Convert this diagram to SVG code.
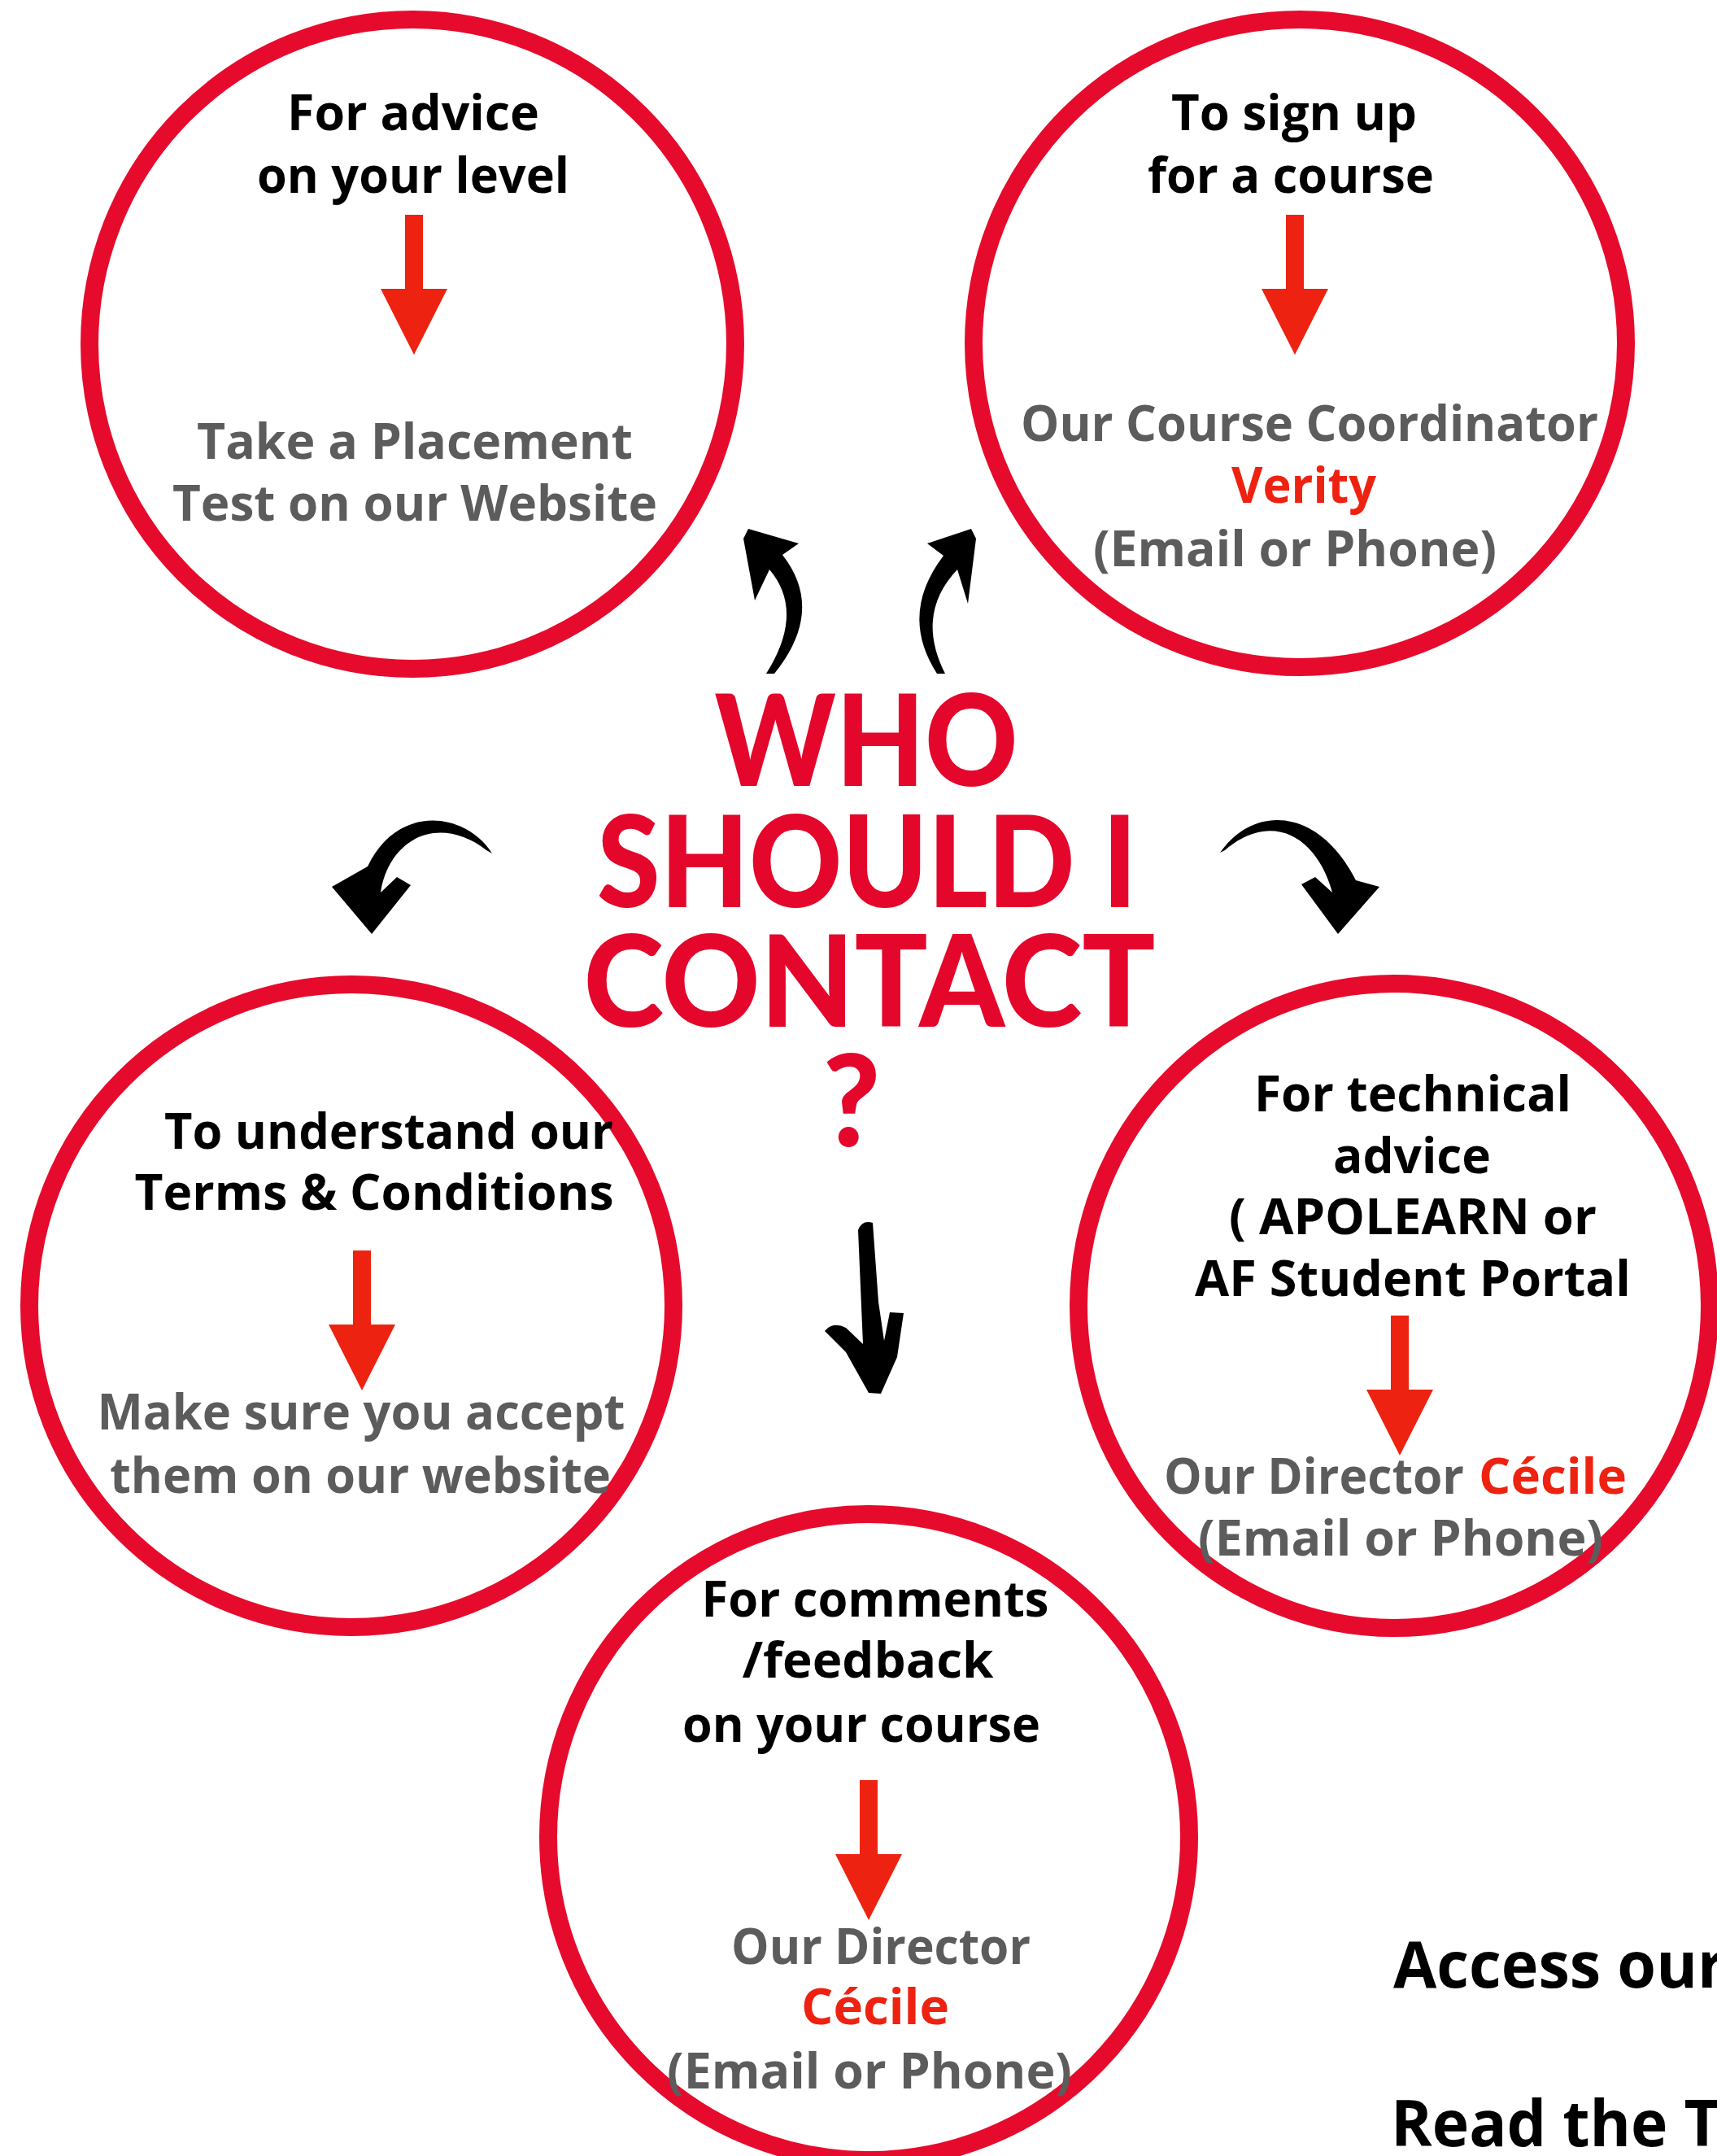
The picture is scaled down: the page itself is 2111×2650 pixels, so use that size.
<svg xmlns="http://www.w3.org/2000/svg" xmlns:xlink="http://www.w3.org/1999/xlink" width="2111" height="2650" viewBox="0 0 2111 2650">
<style>
.ring{fill:none;stroke:#e60b2c;stroke-width:22}
.t{font-family:"Open Sans","Noto Sans","Liberation Sans",sans-serif;font-weight:700;font-size:60px;text-anchor:middle}
.k{fill:#000}
.g{fill:#5c5c5c}
.r{fill:#ee2210}
.s{text-anchor:start}
.big{font-size:78px}
.title{font-family:Lato,"Liberation Sans",sans-serif;font-weight:900;font-size:156px;fill:#e4062b;text-anchor:middle}
.blk{fill:#000}
.redarrow{fill:#ee2210}
</style>
<defs>
<path id="ra" d="M -11,0 H 11 V 91 H 41 L 0,172 L -41,91 H -11 Z"/>
</defs>
<rect width="2111" height="2650" fill="#fff"/>

<g id="connectors">
<path class="blk" d="M 920,650 L 982,668 L 962,682 Q 1015,750 952,828 L 942,828 Q 990,752 946,700 L 928,738 L 914,662 Z"/>
<path class="blk" d="M 1194,650 L 1140,668 L 1160,683 Q 1105,755 1152,828 L 1162,828 Q 1125,755 1177,700 L 1190,742 L 1200,662 Z"/>
<path class="blk" d="M 605,1049 C 575,1000 490,985 452,1065 L 408,1090 L 457,1148 L 505,1088 L 488,1078 L 468,1097 C 478,1030 540,1000 598,1045 Z"/>
<path class="blk" d="M 1500,1048 C 1540,990 1620,990 1667,1082 L 1696,1090 L 1645,1148 L 1600,1087 L 1617,1078 L 1638,1097 C 1620,1030 1565,995 1506,1045 Z"/>
<path class="blk" d="M 1055,1512 Q 1060,1499 1073,1503 L 1080,1600 L 1087,1648 L 1094,1613 L 1111,1614 L 1103,1668 L 1083,1713 L 1068,1712 L 1040,1662 L 1014,1636 Q 1024,1624 1040,1632 L 1061,1652 Z"/>
</g>

<g id="title">
<text class="title" x="1065" y="966" textLength="373" lengthAdjust="spacingAndGlyphs">WHO</text>
<text class="title" x="1066" y="1115" textLength="664" lengthAdjust="spacingAndGlyphs">SHOULD I</text>
<text class="title" x="1069" y="1262" textLength="703" lengthAdjust="spacingAndGlyphs">CONTACT</text>
<text class="title" x="1047" y="1409" textLength="71" lengthAdjust="spacingAndGlyphs">?</text>
</g>

<g id="node-level">
<ellipse class="ring" cx="507" cy="423" rx="397" ry="399"/>
<text class="t k" x="508" y="160" textLength="310" lengthAdjust="spacingAndGlyphs">For advice</text>
<text class="t k" x="508" y="237" textLength="384" lengthAdjust="spacingAndGlyphs">on your level</text>
<use xlink:href="#ra" href="#ra" class="redarrow" x="509" y="264"/>
<text class="t g" x="510" y="564" textLength="536" lengthAdjust="spacingAndGlyphs">Take a Placement</text>
<text class="t g" x="510" y="640" textLength="596" lengthAdjust="spacingAndGlyphs">Test on our Website</text>
</g>

<g id="node-signup">
<ellipse class="ring" cx="1598" cy="422" rx="401" ry="398"/>
<text class="t k" x="1591" y="160" textLength="302" lengthAdjust="spacingAndGlyphs">To sign up</text>
<text class="t k" x="1587" y="237" textLength="352" lengthAdjust="spacingAndGlyphs">for a course</text>
<use xlink:href="#ra" href="#ra" class="redarrow" x="1592" y="264"/>
<text class="t g" x="1610" y="542" textLength="710" lengthAdjust="spacingAndGlyphs">Our Course Coordinator</text>
<text class="t r" x="1603" y="618" textLength="178" lengthAdjust="spacingAndGlyphs">Verity</text>
<text class="t g" x="1592" y="696" textLength="496" lengthAdjust="spacingAndGlyphs">(Email or Phone)</text>
</g>

<g id="node-terms">
<ellipse class="ring" cx="432" cy="1605" rx="396" ry="395"/>
<text class="t k" x="478" y="1412" textLength="552" lengthAdjust="spacingAndGlyphs">To understand our</text>
<text class="t k" x="460" y="1487" textLength="589" lengthAdjust="spacingAndGlyphs">Terms &amp; Conditions</text>
<use xlink:href="#ra" href="#ra" class="redarrow" x="445" y="1537"/>
<text class="t g" x="444" y="1757" textLength="649" lengthAdjust="spacingAndGlyphs">Make sure you accept</text>
<text class="t g" x="443" y="1835" textLength="616" lengthAdjust="spacingAndGlyphs">them on our website</text>
</g>

<g id="node-technical">
<ellipse class="ring" cx="1714" cy="1605" rx="388" ry="396"/>
<text class="t k" x="1737" y="1366" textLength="390" lengthAdjust="spacingAndGlyphs">For technical</text>
<text class="t k" x="1736" y="1442" textLength="194" lengthAdjust="spacingAndGlyphs">advice</text>
<text class="t k" x="1737" y="1517" textLength="452" lengthAdjust="spacingAndGlyphs">( APOLEARN or</text>
<text class="t k" x="1737" y="1593" textLength="536" lengthAdjust="spacingAndGlyphs">AF Student Portal</text>
<use xlink:href="#ra" href="#ra" class="redarrow" x="1721" y="1617"/>
<text class="t g s" x="1431" y="1836" textLength="369" lengthAdjust="spacingAndGlyphs">Our Director</text>
<text class="t r s" x="1818" y="1836" textLength="182" lengthAdjust="spacingAndGlyphs">Cécile</text>
<text class="t g" x="1722" y="1912" textLength="498" lengthAdjust="spacingAndGlyphs">(Email or Phone)</text>
</g>

<g id="node-feedback">
<ellipse class="ring" cx="1068" cy="2258" rx="394" ry="397"/>
<text class="t k" x="1076" y="1987" textLength="427" lengthAdjust="spacingAndGlyphs">For comments</text>
<text class="t k" x="1067" y="2062" textLength="309" lengthAdjust="spacingAndGlyphs">/feedback</text>
<text class="t k" x="1059" y="2141" textLength="440" lengthAdjust="spacingAndGlyphs">on your course</text>
<use xlink:href="#ra" href="#ra" class="redarrow" x="1068" y="2188"/>
<text class="t g" x="1083" y="2414" textLength="368" lengthAdjust="spacingAndGlyphs">Our Director</text>
<text class="t r" x="1076" y="2488" textLength="182" lengthAdjust="spacingAndGlyphs">Cécile</text>
<text class="t g" x="1069" y="2567" textLength="498" lengthAdjust="spacingAndGlyphs">(Email or Phone)</text>
</g>

<g id="links">
<text class="t k s big" x="1713" y="2443" textLength="409" lengthAdjust="spacingAndGlyphs">Access our</text>
<text class="t k s big" x="1710" y="2638" textLength="405" lengthAdjust="spacingAndGlyphs">Read the T</text>
</g>
</svg>
